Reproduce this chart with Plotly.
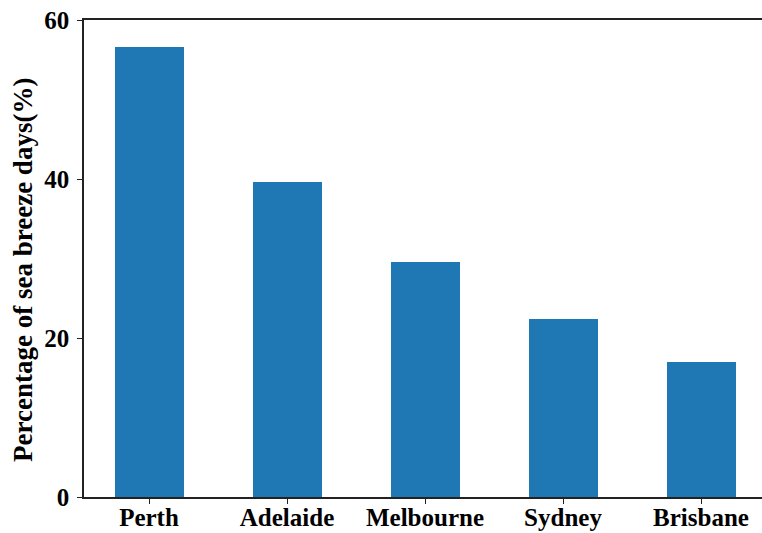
import plotly.graph_objects as go

cities = ["Perth", "Adelaide", "Melbourne", "Sydney", "Brisbane"]
sea_breeze_pct = [56.6, 39.6, 29.5, 22.4, 17.0]
y_ticks = [0, 20, 40, 60]

font_family = "Liberation Serif"
axis_color = "#222222"

fig = go.Figure(
    go.Bar(
        x=list(range(len(cities))),
        y=sea_breeze_pct,
        width=0.5,
        marker=dict(color="#1f77b4", line=dict(width=0)),
    )
)

fig.update_layout(
    width=762,
    height=533,
    margin=dict(l=84, r=0, t=20, b=36),
    paper_bgcolor="white",
    plot_bgcolor="white",
    showlegend=False,
    bargap=0,
)

fig.update_xaxes(
    range=[-0.471, 4.442],
    automargin=False,
    tickmode="array",
    tickvals=list(range(len(cities))),
    ticktext=cities,
    ticks="outside",
    ticklen=5,
    tickwidth=1.2,
    tickcolor=axis_color,
    showline=True,
    linecolor=axis_color,
    linewidth=1.5,
    mirror=True,
    showgrid=False,
    zeroline=False,
    ticklabelstandoff=-8,
    tickfont=dict(family=font_family, size=25, color="black", weight="bold"),
)

fig.update_yaxes(
    range=[0, 60],
    automargin=False,
    tickmode="array",
    tickvals=y_ticks,
    ticktext=[str(v) for v in y_ticks],
    ticks="outside",
    ticklen=5,
    tickwidth=1.2,
    tickcolor=axis_color,
    showline=True,
    linecolor=axis_color,
    linewidth=1.5,
    showgrid=False,
    zeroline=False,
    ticklabelstandoff=3,
    tickfont=dict(family=font_family, size=25, color="black", weight="bold"),
)

# Y-axis title drawn as a rotated annotation so it can sit a little below centre
fig.add_annotation(
    text="Percentage of sea breeze days(%)",
    xref="paper",
    yref="paper",
    x=-84 / 678 + 23 / 678,
    y=(497 - 270) / 477,
    xanchor="center",
    yanchor="middle",
    textangle=-90,
    showarrow=False,
    font=dict(family=font_family, size=27, color="black", weight="bold"),
)

fig.write_html("out.html")
